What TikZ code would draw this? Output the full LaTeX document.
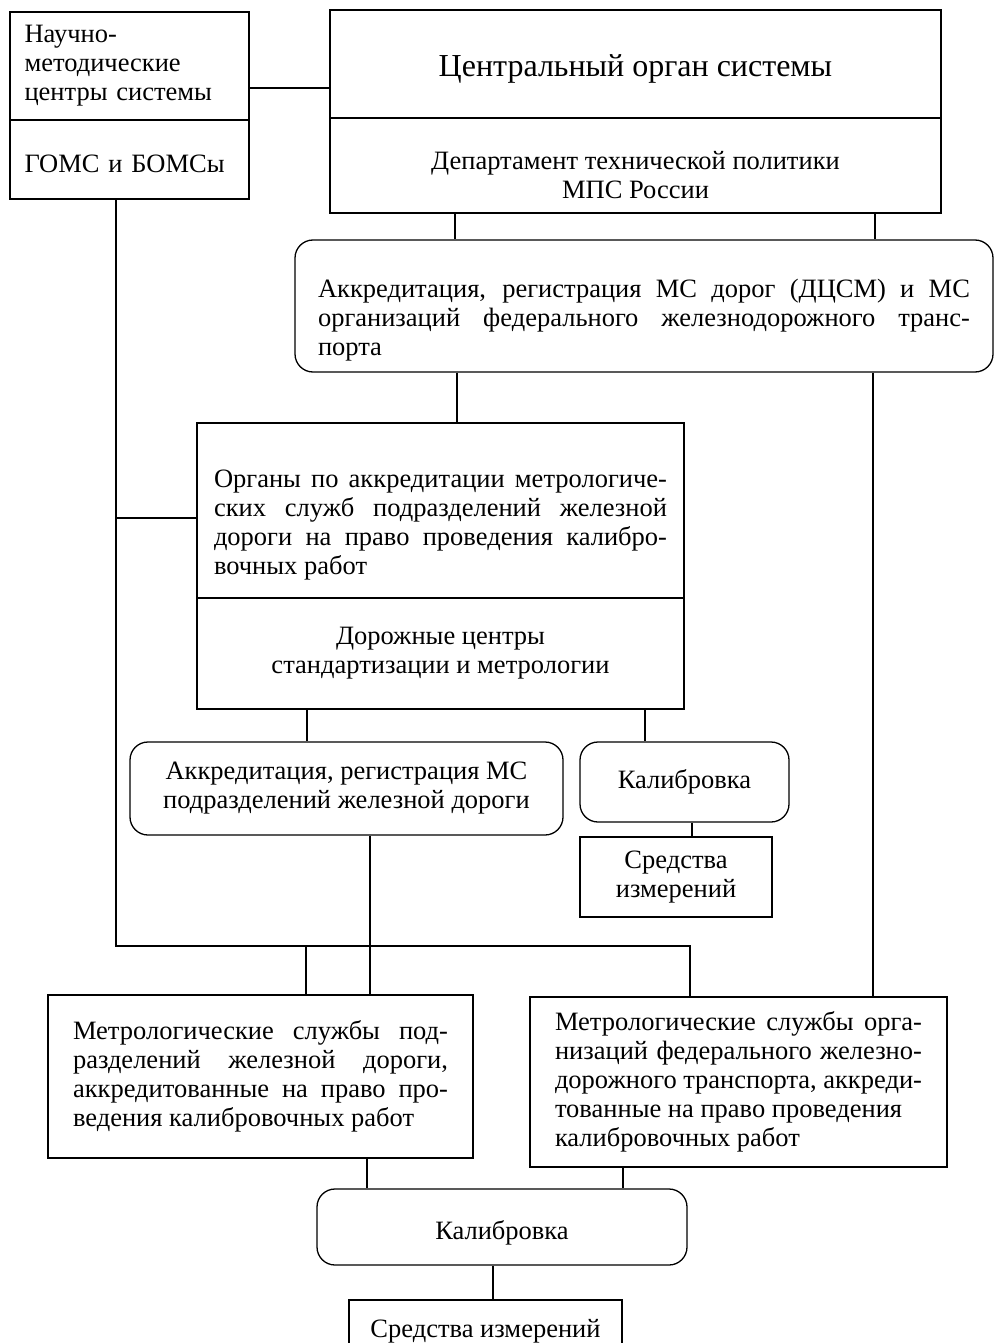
\documentclass[tikz,border=0pt]{standalone}
\usepackage{fontspec}
\setmainfont{Liberation Serif}
\usetikzlibrary{positioning,calc}

\hyphenpenalty=10000
\tolerance=9999
\hbadness=10000
\newcommand{\lowr}[1]{\rule{0pt}{#1}}

\tikzset{
  every node/.style={font=\fontsize{26.5}{29}\selectfont},
  % --- nodes
  box/.style  = {draw, line width=1.3pt, inner sep=0pt, align=center},
  rbox/.style = {box, rounded corners=18pt},
  big/.style  = {font=\fontsize{32}{34}\selectfont},
  % --- edges
  e/.style    = {line width=1.3pt},
}

\begin{document}
\begin{tikzpicture}[x=1pt,y=-1pt]
  \useasboundingbox (0,0) rectangle (994,1343);

  % top row
  \node[box, minimum width=239pt, minimum height=108pt, text width=210pt, align=left]
    (nmc) at (129.5,66) {Научно-\\методические\\центры системы};
  \node[box, minimum width=239pt, minimum height=79pt, text width=210pt, align=left]
    (goms) at (129.5,159.5) {\lowr{26pt}ГОМС и БОМСы};
  \node[box, big, minimum width=611pt, minimum height=108pt]
    (cent) at (635.5,64) {\lowr{32pt}Центральный орган системы};
  \node[box, minimum width=611pt, minimum height=95pt]
    (dept) at (635.5,165.5) {\lowr{38pt}Департамент технической политики\\МПС России};

  \node[rbox, minimum width=698pt, minimum height=132pt, text width=652pt, align=justify]
    (acc1) at (644,306)
    {\lowr{46pt}Аккредитация, регистрация МС дорог (ДЦСМ) и МС\linebreak
     организаций федерального железнодорожного транс-\linebreak
     порта};

  % middle
  \node[box, minimum width=487pt, minimum height=175pt, text width=453pt, align=justify]
    (org) at (440.5,510.5)
    {\lowr{46pt}Органы по аккредитации метрологиче-\linebreak
     ских служб подразделений железной\linebreak
     дороги на право проведения калибро-\linebreak
     вочных работ};
  \node[box, minimum width=487pt, minimum height=111pt]
    (dcsm) at (440.5,653.5) {Дорожные центры\\стандартизации и метрологии};

  \node[rbox, minimum width=433pt, minimum height=93pt]
    (acc2) at (346.5,788.5) {Аккредитация, регистрация МС\\подразделений железной дороги};
  \node[rbox, minimum width=209pt, minimum height=80pt]
    (cal1) at (684.5,782) {Калибровка};
  \node[box, minimum width=192pt, minimum height=80pt]
    (si1) at (676,877) {Средства\\измерений};

  % bottom
  \node[box, minimum width=425pt, minimum height=163pt, text width=375pt, align=justify]
    (ms1) at (260.5,1076.5)
    {Метрологические службы под-\linebreak
     разделений железной дороги,\linebreak
     аккредитованные на право про-\linebreak
     ведения калибровочных работ};
  \node[box, minimum width=417pt, minimum height=170pt, text width=367pt, align=justify]
    (ms2) at (738.5,1082)
    {Метрологические службы орга-\linebreak
     низаций федерального железно-\linebreak
     дорожного транспорта, аккреди-\linebreak
     тованные на право проведения\\
     калибровочных работ};
  \node[rbox, minimum width=370pt, minimum height=76pt]
    (cal2) at (502,1227) {\lowr{30pt}Калибровка};
  \node[box, minimum width=273pt, minimum height=62pt]
    (si2) at (485.5,1331) {Средства измерений};

  % connectors
  \coordinate (busL) at (116,946);
  \coordinate (busR) at (690,946);
  \draw[e] ([yshift=-22pt]nmc.east) -- ([yshift=-22pt]nmc.east -| cent.west);
  \draw[e] ([xshift=-180.5pt]dept.south) -- ([xshift=-180.5pt]dept.south |- acc1.north);
  \draw[e] ([xshift=239.5pt]dept.south) -- ([xshift=239.5pt]dept.south |- acc1.north);
  \draw[e] ([xshift=16.5pt]acc1.south -| org.north) -- ([xshift=16.5pt]org.north);
  \draw[e] ([xshift=134.5pt]ms2.north |- acc1.south) -- ([xshift=134.5pt]ms2.north);
  \draw[e] (goms.south -| busL) -- (busL) -- (busR) -- (busR |- ms2.north);
  \draw[e] ([yshift=-7.5pt]org.west -| busL) -- ([yshift=-7.5pt]org.west);
  \draw[e] ([xshift=45.5pt]ms1.north |- busL) -- ([xshift=45.5pt]ms1.north);
  \draw[e] ([xshift=-133.5pt]dcsm.south) -- ([xshift=-133.5pt]dcsm.south |- acc2.north);
  \draw[e] ([xshift=204.5pt]dcsm.south) -- ([xshift=204.5pt]dcsm.south |- cal1.north);
  \draw[e] ([xshift=7.5pt]cal1.south) -- ([xshift=7.5pt]cal1.south |- si1.north);
  \draw[e] ([xshift=23.5pt]acc2.south) -- ([xshift=23.5pt]acc2.south |- ms1.north);
  \draw[e] ([xshift=106.5pt]ms1.south) -- ([xshift=106.5pt]ms1.south |- cal2.north);
  \draw[e] ([xshift=-115.5pt]ms2.south) -- ([xshift=-115.5pt]ms2.south |- cal2.north);
  \draw[e] ([xshift=-9pt]cal2.south) -- ([xshift=-9pt]cal2.south |- si2.north);
\end{tikzpicture}
\end{document}
